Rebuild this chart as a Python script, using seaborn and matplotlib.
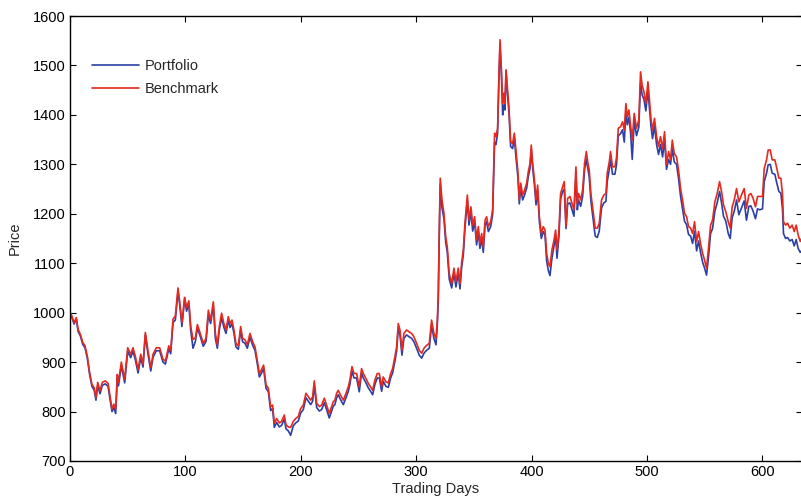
import matplotlib
matplotlib.use("Agg")
import matplotlib.pyplot as plt
import seaborn as sns
import pandas as pd

# ---- data ----
trading_days = [
    0, 1, 3.5, 5.5, 7, 9, 11, 13, 15, 17, 19, 21, 22.5, 24, 26, 28, 30.6, 33, 34.4, 36.4,
    38, 39.6, 41, 42, 44.5, 47.4, 50, 52.6, 54.6, 56.6, 59, 61.3, 63.3, 65.3, 67.6, 70, 72, 74.8, 77.7, 80.6,
    82.7, 85.6, 87.3, 89.3, 91.3, 93.6, 95, 97, 99.4, 101, 103, 104.6, 106.6, 108.7, 110.4, 112.5, 115.5, 117.9, 119.9, 121.9,
    124.2, 126, 127.7, 129.4, 131.4, 133.4, 135.2, 137.2, 138.7, 140.4, 142.1, 143.8, 145.9, 147.9, 149.6, 151.7, 153.7, 156, 158.3, 160.3,
    162.3, 164.1, 165.8, 167.8, 169.9, 171.9, 173.9, 175.6, 177.1, 179.1, 181.4, 183.4, 185.7, 187.2, 189.2, 191.2, 193.5, 195.6, 197.9, 199.9,
    202.2, 204.5, 206.5, 208.6, 210.3, 211.7, 213.8, 216.1, 218.1, 220.4, 222.4, 224.7, 226.8, 228.2, 229.6, 231.1, 232.5, 234.5, 236.9, 239.2,
    241.2, 242.6, 244.4, 246.1, 248.4, 250.7, 252.7, 254.2, 256.5, 258.5, 260.5, 262.3, 264.3, 266.3, 268.1, 270.1, 271.5, 273.8, 275.9, 277.9,
    279.6, 281.6, 283.1, 284.5, 286, 287.7, 289.4, 291.7, 294.1, 296.1, 298.1, 300.4, 302.7, 304.8, 306.8, 309.1, 311.4, 313.4, 315.4, 317.2,
    318.3, 319.2, 320.1, 320.9, 322.4, 324.1, 325.6, 327, 328.7, 330.8, 332.8, 334.5, 336.5, 338, 339.4, 340.9, 342.3, 344.4, 345.8, 347.5,
    349, 350.7, 352.4, 353.9, 355.3, 356.8, 358.2, 359.7, 361.1, 362.6, 364.6, 366.3, 368, 369.2, 370.6, 371.8, 372.7, 373.8, 375, 376.1,
    377, 377.9, 379, 380.5, 381.9, 383.6, 385.1, 386.5, 388.3, 389.4, 390.6, 392.3, 394, 395.8, 397.2, 398.7, 399.8, 401, 402.4, 403.9,
    405.3, 406.8, 408.5, 410.2, 411.7, 413.1, 414.6, 416, 417.7, 419.5, 420.9, 422.1, 423.8, 425.2, 427, 428.4, 429.9, 431.3, 433.3, 435.1,
    436.8, 438.5, 439.7, 440.8, 442.6, 444.3, 446, 447.5, 448.9, 450, 451.5, 452.5, 454, 455.2, 457, 458.7, 460.7, 462.7, 464.5, 465.6,
    467.4, 468.5, 470.2, 472.3, 473.7, 475.2, 477.2, 478.9, 480.4, 481.8, 483, 484.4, 485.8, 487.3, 489, 491, 493, 494.5, 495.9, 497.4,
    499.1, 500.9, 502, 503.5, 504.9, 506.6, 508.4, 510.1, 511.8, 513.6, 515.3, 517, 518.8, 520.5, 522, 523.7, 525.7, 527.4, 529.2, 530.9,
    532.6, 534.4, 536.1, 537.9, 539.6, 541.3, 543.1, 544.8, 546.5, 548.3, 550, 551.7, 553.5, 555.2, 556.9, 558.9, 560.9, 563, 564.7, 566.4,
    568.4, 570.5, 572.2, 573.9, 575.7, 577.7, 579.7, 582, 584.3, 586.3, 588.4, 590.1, 592.1, 594.1, 595.9, 597.9, 600.2, 601.7, 603.7, 605.1,
    606.9, 608.6, 610.9, 612.6, 614.4, 616.1, 617.5, 618.4, 620.2, 621.9, 623.9, 625.9, 627.7, 629.4, 631.1, 632.9, 634,
]

benchmark = [
    1000, 997, 980, 990, 966, 956, 940, 933, 912, 879, 855, 848, 828, 859, 842, 859, 862, 857, 835, 805,
    815, 805, 875, 859, 900, 865, 929, 916, 929, 912, 885, 916, 896, 960, 923, 889, 916, 929, 929, 906,
    902, 933, 923, 987, 993, 1050, 1024, 980, 1031, 1010, 1024, 973, 946, 949, 976, 961, 938, 948, 1005, 985,
    1022, 958, 935, 972, 999, 978, 965, 992, 978, 985, 965, 938, 933, 972, 948, 945, 935, 958, 941, 931,
    904, 877, 884, 894, 854, 847, 810, 813, 776, 786, 777, 780, 793, 773, 769, 768, 780, 786, 790, 806,
    813, 837, 830, 823, 830, 862, 817, 810, 813, 827, 813, 796, 810, 820, 823, 837, 843, 833, 823, 837,
    850, 864, 891, 877, 877, 850, 887, 877, 867, 857, 850, 843, 864, 877, 877, 850, 870, 860, 858, 877,
    887, 911, 931, 978, 965, 924, 958, 965, 961, 958, 951, 938, 924, 918, 928, 934, 938, 985, 958, 948,
    982, 1039, 1174, 1272, 1228, 1201, 1154, 1133, 1079, 1059, 1090, 1063, 1090, 1059, 1100, 1127, 1181, 1238, 1187, 1214,
    1177, 1194, 1147, 1174, 1140, 1160, 1133, 1187, 1194, 1174, 1184, 1208, 1363, 1356, 1373, 1484, 1552, 1498, 1423, 1444,
    1423, 1491, 1457, 1413, 1346, 1342, 1363, 1329, 1282, 1228, 1262, 1238, 1248, 1262, 1285, 1302, 1339, 1302, 1272, 1228,
    1258, 1194, 1160, 1174, 1167, 1120, 1100, 1093, 1127, 1147, 1167, 1127, 1167, 1241, 1255, 1265, 1174, 1231, 1235, 1221,
    1208, 1295, 1221, 1241, 1228, 1248, 1302, 1326, 1302, 1289, 1240, 1221, 1191, 1171, 1171, 1181, 1228, 1238, 1241, 1282,
    1305, 1326, 1295, 1295, 1315, 1373, 1376, 1386, 1369, 1423, 1396, 1410, 1380, 1349, 1403, 1373, 1390, 1487, 1460, 1447,
    1423, 1467, 1437, 1393, 1369, 1393, 1356, 1336, 1356, 1332, 1366, 1299, 1326, 1309, 1349, 1322, 1315, 1289, 1251, 1228,
    1201, 1194, 1174, 1171, 1160, 1184, 1144, 1164, 1140, 1120, 1106, 1090, 1133, 1177, 1187, 1224, 1241, 1265, 1245, 1218,
    1204, 1184, 1171, 1214, 1228, 1251, 1224, 1238, 1251, 1211, 1238, 1241, 1231, 1214, 1235, 1235, 1235, 1292, 1309, 1329,
    1329, 1309, 1309, 1292, 1272, 1272, 1241, 1184, 1177, 1181, 1171, 1177, 1164, 1177, 1157, 1144, 1150,
]

portfolio = [
    1000, 995, 977, 987, 962, 953, 936, 929, 908, 875, 851, 843, 823, 853, 836, 853, 856, 851, 829, 800,
    808, 796, 868, 852, 893, 858, 922, 909, 922, 905, 878, 909, 890, 955, 916, 882, 910, 923, 923, 900,
    896, 927, 917, 980, 985, 1043, 1018, 972, 1030, 1003, 1018, 965, 928, 942, 969, 955, 932, 942, 995, 978,
    1015, 948, 928, 965, 990, 970, 958, 985, 970, 978, 958, 931, 926, 964, 941, 938, 928, 950, 934, 924,
    897, 870, 877, 887, 847, 840, 802, 806, 768, 778, 769, 772, 785, 765, 761, 752, 771, 777, 781, 797,
    804, 828, 821, 814, 821, 853, 808, 801, 804, 818, 804, 787, 801, 811, 814, 828, 834, 824, 814, 828,
    841, 855, 882, 868, 868, 840, 878, 868, 858, 848, 841, 834, 855, 868, 868, 841, 861, 851, 849, 868,
    878, 902, 922, 968, 955, 914, 948, 955, 951, 948, 941, 928, 914, 908, 918, 924, 928, 975, 948, 935,
    972, 1025, 1160, 1260, 1212, 1190, 1143, 1122, 1068, 1050, 1080, 1052, 1080, 1048, 1090, 1117, 1170, 1228, 1177, 1204,
    1165, 1184, 1137, 1164, 1130, 1150, 1122, 1177, 1184, 1164, 1174, 1198, 1345, 1340, 1363, 1474, 1540, 1488, 1400, 1420,
    1410, 1490, 1447, 1403, 1336, 1332, 1353, 1315, 1272, 1220, 1252, 1228, 1238, 1252, 1275, 1292, 1330, 1292, 1262, 1218,
    1248, 1184, 1150, 1164, 1157, 1105, 1085, 1075, 1110, 1135, 1155, 1110, 1155, 1230, 1245, 1250, 1170, 1220, 1222, 1208,
    1195, 1280, 1208, 1228, 1215, 1235, 1290, 1310, 1290, 1275, 1225, 1206, 1176, 1155, 1152, 1165, 1212, 1222, 1225, 1265,
    1290, 1310, 1280, 1280, 1300, 1358, 1362, 1370, 1345, 1408, 1380, 1395, 1365, 1310, 1388, 1358, 1375, 1465, 1440, 1432,
    1408, 1450, 1420, 1378, 1352, 1378, 1340, 1320, 1340, 1315, 1350, 1290, 1310, 1300, 1332, 1305, 1300, 1272, 1235, 1210,
    1185, 1178, 1158, 1155, 1140, 1165, 1125, 1145, 1122, 1102, 1090, 1076, 1115, 1160, 1170, 1205, 1222, 1245, 1222, 1195,
    1185, 1160, 1150, 1192, 1205, 1228, 1198, 1212, 1226, 1187, 1215, 1216, 1205, 1190, 1210, 1208, 1210, 1265, 1282, 1299,
    1300, 1282, 1280, 1262, 1245, 1242, 1210, 1160, 1150, 1152, 1145, 1148, 1135, 1148, 1130, 1122, 1125,
]

series_names = ["Portfolio", "Benchmark"]
x_ticks = [0, 100, 200, 300, 400, 500, 600]
y_ticks = [700, 800, 900, 1000, 1100, 1200, 1300, 1400, 1500, 1600]

df = pd.concat([
    pd.DataFrame({"Trading Days": trading_days, "Price": portfolio, "Series": series_names[0]}),
    pd.DataFrame({"Trading Days": trading_days, "Price": benchmark, "Series": series_names[1]}),
], ignore_index=True)

sns.set_style("ticks")
plt.rcParams["font.family"] = ["Liberation Sans", "DejaVu Sans"]

fig = plt.figure(figsize=(8.01, 5.00), dpi=100)
ax = fig.add_axes([70 / 801, 39 / 500, 731.5 / 801, 445 / 500])

palette = {"Portfolio": "#2b3fa6", "Benchmark": "#e5291f"}
sns.lineplot(data=df, x="Trading Days", y="Price", hue="Series", hue_order=series_names,
             palette=palette, linewidth=1.2, ax=ax, estimator=None, sort=False)

ax.set_xlim(0, 634)
ax.set_ylim(700, 1600)
ax.set_xticks(x_ticks)
ax.set_yticks(y_ticks)
ax.tick_params(direction="in", length=4.5, width=0.8, labelsize=10.5, colors="black",
               top=True, right=True, pad=3)
for s in ax.spines.values():
    s.set_visible(True)
    s.set_linewidth(1.0)
    s.set_color("black")
ax.set_xlabel("Trading Days", fontsize=10.5, labelpad=2)
ax.set_ylabel("Price", fontsize=10.5, labelpad=8)

leg = ax.legend(loc="upper left", bbox_to_anchor=(0.012, 0.933), frameon=False, fontsize=10.5,
                handlelength=3.2, handletextpad=0.4, labelspacing=0.6)
for h in leg.get_lines():
    h.set_linewidth(1.2)

fig.savefig("out.png", dpi=100)
